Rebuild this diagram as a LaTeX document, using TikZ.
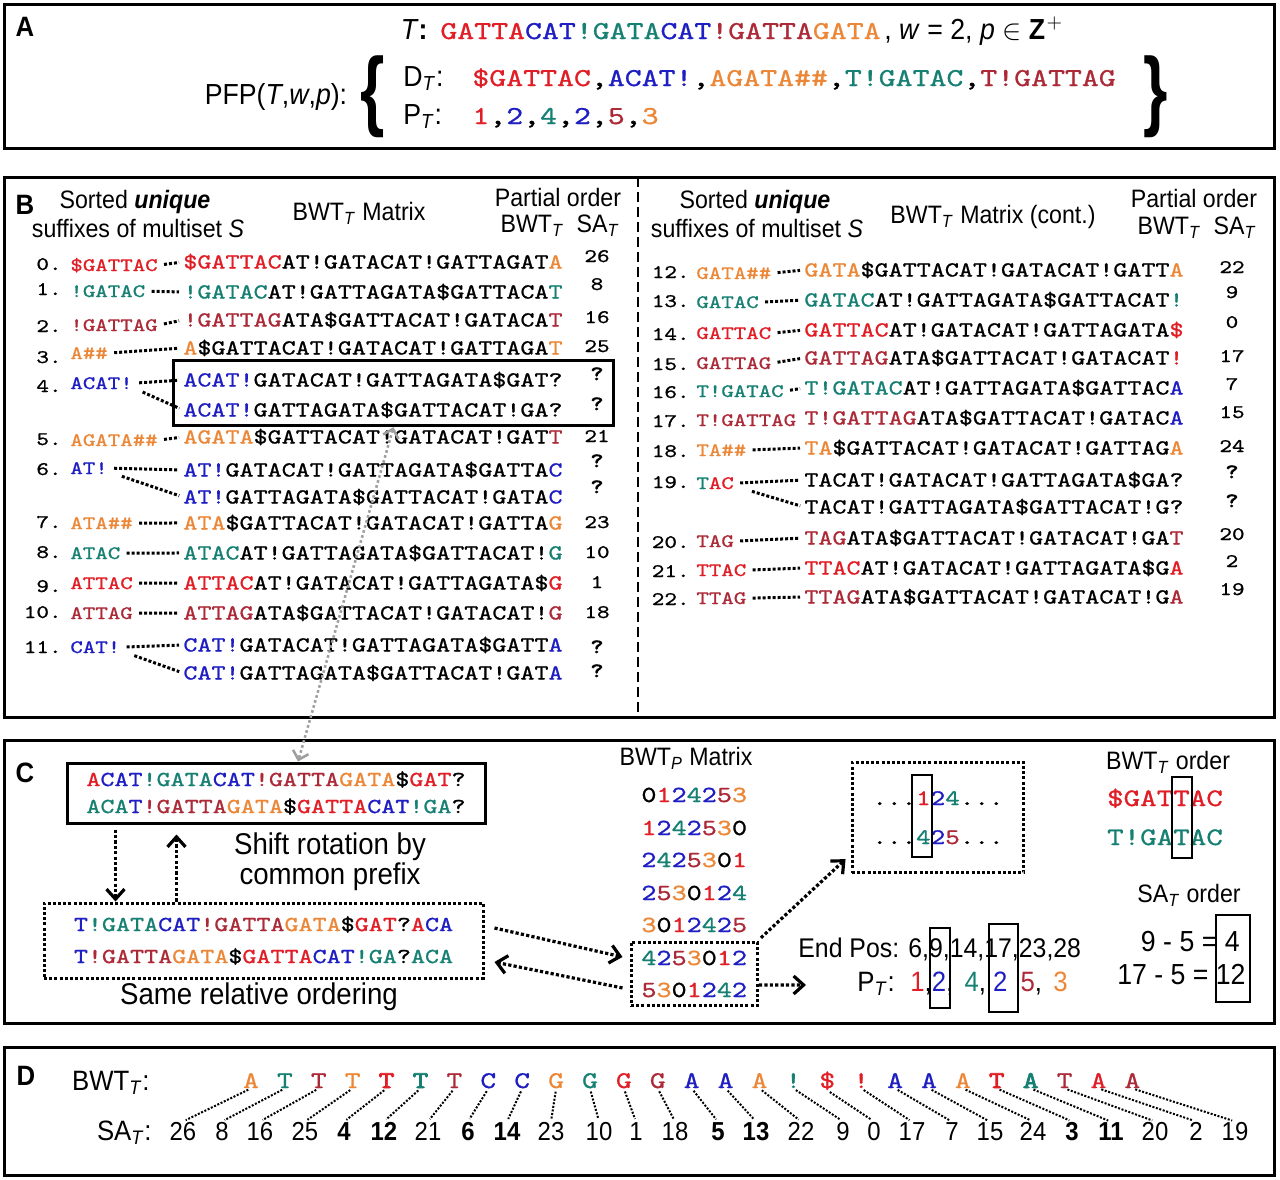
\documentclass[tikz,border=0pt]{standalone}
\usepackage{fontspec}
\usepackage{graphicx}
\setmainfont{Liberation Sans}[FakeStretch=0.92]
\newfontfamily\seqfont{lmmono10-regular}[Extension=.otf,FakeStretch=1.25,
  UprightFeatures={FakeBold=1},BoldFont=lmmono10-regular,BoldFeatures={FakeBold=3}]
\usetikzlibrary{arrows.meta,fit,calc}
\definecolor{seqred}{RGB}{225,30,38}
\definecolor{seqblue}{RGB}{30,30,195}
\definecolor{seqteal}{RGB}{22,128,115}
\definecolor{seqorange}{RGB}{235,135,55}
\definecolor{seqdark}{RGB}{172,42,55}
\newcommand{\fsz}[1]{\fontsize{#1}{#1}\selectfont}
\newcommand{\subi}[1]{\textsubscript{\textit{#1}}}
\newcommand{\cR}[1]{\textcolor{seqred}{#1}}
\newcommand{\cB}[1]{\textcolor{seqblue}{#1}}
\newcommand{\cT}[1]{\textcolor{seqteal}{#1}}
\newcommand{\cO}[1]{\textcolor{seqorange}{#1}}
\newcommand{\cD}[1]{\textcolor{seqdark}{#1}}
\tikzset{
  panel/.style={draw=black,line width=1.5pt},
  panellab/.style={font=\bfseries\fsz{14},inner sep=0pt},
  hdr/.style={font=\fsz{12.6},inner sep=0pt},
  txtbig/.style={font=\fsz{14.5},inner sep=0pt},
  seqrow/.style={font=\seqfont\fsz{10.7},anchor=base west,inner sep=0pt},
  suflab/.style={font=\seqfont\fsz{9.5},anchor=base west,inner sep=0pt},
  rownum/.style={font=\seqfont\fsz{9.6},anchor=base east,inner sep=0pt},
  saval/.style={font=\seqfont\fsz{9.6},anchor=base,inner sep=0pt},
  saq/.style={saval,font=\seqfont\bfseries\fsz{10}},
  dotlink/.style={line width=1.5pt,dash pattern=on 1.5pt off 1pt,
    shorten <=3pt,shorten >=2pt},
  dotarrow/.style={line width=1.6pt,dash pattern=on 1.6pt off 1.1pt,
    -{Straight Barb[length=5pt,width=9pt]}},
  dotbox/.style={draw,line width=1.5pt,dash pattern=on 1.5pt off 1.1pt},
  solidbox/.style={draw,line width=1.5pt},
  markbox/.style={draw,line width=1.2pt},
  greylink/.style={draw=gray!75,line width=1.3pt,dash pattern=on 1.3pt off 1.3pt,
    {Straight Barb[length=4pt,width=8pt]}-{Straight Barb[length=4pt,width=8pt]}},
  thinlink/.style={line width=1pt,dash pattern=on 1pt off 0.8pt,
    shorten <=1.5pt,shorten >=1.5pt},
  bwtch/.style={anchor=base,inner sep=0pt},
  saD/.style={anchor=base,inner sep=0pt}
}

\begin{document}
\begin{tikzpicture}[x=0.5pt,y=-0.5pt]
  \useasboundingbox (0,0) rectangle (1280,1179);
  % panel frames
  \draw[panel] (4,4) rectangle (1274,148);
  \draw[panel] (4,177) rectangle (1274,717);
  \draw[panel] (4,740) rectangle (1274,1023);
  \draw[panel] (4,1047) rectangle (1274,1175);
  \draw[line width=1.3pt,dash pattern=on 5pt off 2.5pt] (638,177) -- (638,717);

  % A: input and prefix-free parse
  \node[panellab] (labA) at (25,27) {A};
  \node[txtbig,anchor=base east] (tname) at (428,39) {\textit{T}\textbf{:}};
  \node[font=\seqfont\fsz{12.9},anchor=base west,inner sep=0pt] (tstr) at (440,39)
    {\cR{GATTA}\cB{CAT}\cT{!GATA}\cB{CAT}\cD{!GATTA}\cO{GATA}};
  \node[txtbig,anchor=base west] (params) at (884,39)
    {, \textit{w} = 2, \textit{p} $\in$ $\mathbf{Z}^{+}$};
  \node[txtbig] (pfp) at (276,97) {PFP(\textit{T},\textit{w},\textit{p}):};
  \node[inner sep=0pt] (lbr) at (373,97) {\fsz{20}\bfseries\scalebox{1.7}[2.2]{\{}};
  \node[txtbig,anchor=base west] (dlab) at (403,86) {D\subi{T}:};
  \node[font=\seqfont\fsz{12.9},anchor=base west,inner sep=0pt] (dstr) at (472,86)
    {\cR{\$GATTAC},\cB{ACAT!},\cO{AGATA\#\#},\cT{T!GATAC},\cD{T!GATTAG}};
  \node[txtbig,anchor=base west] (plab) at (403,124) {P\subi{T}:};
  \node[font=\seqfont\fsz{12.9},anchor=base west,inner sep=0pt] (pstr) at (472,124)
    {\cR{1},\cB{2},\cT{4},\cB{2},\cD{5},\cO{3}};
  \node[inner sep=0pt] (rbr) at (1156,97) {\fsz{20}\bfseries\scalebox{1.7}[2.2]{\}}};

  % B: headers
  \node[panellab] (labB) at (25,205) {B};
  \node[hdr] (hsortL) at (135,202) {Sorted \textbf{\textit{unique}}};
  \node[hdr] (hsufL) at (138,228) {suffixes of multiset \textit{S}};
  \node[hdr] (hmatL) at (359,213) {BWT\subi{T} Matrix};
  \node[hdr] (hpoL) at (558,197) {Partial order};
  \node[hdr] (hbsL) at (560,226) {BWT\subi{T}\enspace SA\subi{T}};
  \node[hdr] (hsortR) at (755,202) {Sorted \textbf{\textit{unique}}};
  \node[hdr] (hsufR) at (757,228) {suffixes of multiset \textit{S}};
  \node[hdr] (hmatR) at (993,217) {BWT\subi{T} Matrix (cont.)};
  \node[hdr] (hpoR) at (1194,198) {Partial order};
  \node[hdr] (hbsR) at (1197,228) {BWT\subi{T}\enspace SA\subi{T}};

  % B: rows 0-11
  \node[rownum] (n0) at (62,270) {0.};
  \node[suflab] (l0) at (70,271) {\cR{\$GATTAC}};
  \node[seqrow] (r0) at (183,268.5) {\cR{\$GATTAC}AT!GATACAT!GATTAGAT\cO{A}};
  \node[saval] (s0) at (597,262) {26};
  \node[rownum] (n1) at (62,295) {1.};
  \node[suflab] (l1) at (70,297) {\cT{!GATAC}};
  \node[seqrow] (r1) at (183,298.5) {\cT{!GATAC}AT!GATTAGATA\$GATTACA\cT{T}};
  \node[saval] (s1) at (597,290) {8};
  \node[rownum] (n2) at (62,332) {2.};
  \node[suflab] (l2) at (70,331) {\cD{!GATTAG}};
  \node[seqrow] (r2) at (183,326.5) {\cD{!GATTAG}ATA\$GATTACAT!GATACA\cD{T}};
  \node[saval] (s2) at (597,323) {16};
  \node[rownum] (n3) at (62,363) {3.};
  \node[suflab] (l3) at (70,359) {\cO{A\#\#}};
  \node[seqrow] (r3) at (183,354.5) {\cO{A}\$GATTACAT!GATACAT!GATTAGA\cO{T}};
  \node[saval] (s3) at (597,352) {25};
  \node[rownum] (n4) at (62,392) {4.};
  \node[suflab] (l4) at (70,389) {\cB{ACAT!}};
  \node[seqrow] (r4a) at (183,386.5) {\cB{ACAT!}GATACAT!GATTAGATA\$GAT?};
  \node[seqrow] (r4b) at (183,416.5) {\cB{ACAT!}GATTAGATA\$GATTACAT!GA?};
  \node[saq] (s4a) at (597,380) {?};
  \node[saq] (s4b) at (597,410) {?};
  \node[solidbox,fit=(r4a)(r4b)(s4a)(s4b),inner xsep=5pt,inner ysep=3.5pt] (box4) {};
  \node[rownum] (n5) at (62,445) {5.};
  \node[suflab] (l5) at (70,446) {\cO{AGATA\#\#}};
  \node[seqrow] (r5) at (183,443.5) {\cO{AGATA}\$GATTACAT!GATACAT!GAT\cD{T}};
  \node[saval] (s5) at (597,442) {21};
  \node[rownum] (n6) at (62,475) {6.};
  \node[suflab] (l6) at (70,474) {\cB{AT!}};
  \node[seqrow] (r6a) at (183,476.5) {\cB{AT!}GATACAT!GATTAGATA\$GATTA\cB{C}};
  \node[seqrow] (r6b) at (183,503.5) {\cB{AT!}GATTAGATA\$GATTACAT!GATA\cB{C}};
  \node[saq] (s6a) at (597,467) {?};
  \node[saq] (s6b) at (597,493) {?};
  \node[rownum] (n7) at (62,528) {7.};
  \node[suflab] (l7) at (70,529) {\cO{ATA\#\#}};
  \node[seqrow] (r7) at (183,529.5) {\cO{ATA}\$GATTACAT!GATACAT!GATTA\cO{G}};
  \node[saval] (s7) at (597,528) {23};
  \node[rownum] (n8) at (62,558) {8.};
  \node[suflab] (l8) at (70,559) {\cT{ATAC}};
  \node[seqrow] (r8) at (183,559.5) {\cT{ATAC}AT!GATTAGATA\$GATTACAT!\cT{G}};
  \node[saval] (s8) at (597,558) {10};
  \node[rownum] (n9) at (62,592) {9.};
  \node[suflab] (l9) at (70,589) {\cR{ATTAC}};
  \node[seqrow] (r9) at (183,589.5) {\cR{ATTAC}AT!GATACAT!GATTAGATA\$\cR{G}};
  \node[saval] (s9) at (597,588) {1};
  \node[rownum] (n10) at (62,618) {10.};
  \node[suflab] (l10) at (70,619) {\cD{ATTAG}};
  \node[seqrow] (r10) at (183,619.5) {\cD{ATTAG}ATA\$GATTACAT!GATACAT!\cD{G}};
  \node[saval] (s10) at (597,618) {18};
  \node[rownum] (n11) at (62,653) {11.};
  \node[suflab] (l11) at (70,653) {\cB{CAT!}};
  \node[seqrow] (r11a) at (183,651.5) {\cB{CAT!}GATACAT!GATTAGATA\$GATT\cB{A}};
  \node[seqrow] (r11b) at (183,679.5) {\cB{CAT!}GATTAGATA\$GATTACAT!GAT\cB{A}};
  \node[saq] (s11a) at (597,653) {?};
  \node[saq] (s11b) at (597,677) {?};

  % B: rows 12-22
  \node[rownum] (n12) at (690,278) {12.};
  \node[suflab] (l12) at (696,279) {\cO{GATA\#\#}};
  \node[seqrow] (r12) at (804,276.5) {\cO{GATA}\$GATTACAT!GATACAT!GATT\cO{A}};
  \node[saval] (s12) at (1232,273) {22};
  \node[rownum] (n13) at (690,307) {13.};
  \node[suflab] (l13) at (696,308) {\cT{GATAC}};
  \node[seqrow] (r13) at (804,306.5) {\cT{GATAC}AT!GATTAGATA\$GATTACAT\cT{!}};
  \node[saval] (s13) at (1232,298) {9};
  \node[rownum] (n14) at (690,340) {14.};
  \node[suflab] (l14) at (696,339) {\cR{GATTAC}};
  \node[seqrow] (r14) at (804,336.5) {\cR{GATTAC}AT!GATACAT!GATTAGATA\cR{\$}};
  \node[saval] (s14) at (1232,328) {0};
  \node[rownum] (n15) at (690,370) {15.};
  \node[suflab] (l15) at (696,369) {\cD{GATTAG}};
  \node[seqrow] (r15) at (804,364.5) {\cD{GATTAG}ATA\$GATTACAT!GATACAT\cR{!}};
  \node[saval] (s15) at (1232,362) {17};
  \node[rownum] (n16) at (690,398) {16.};
  \node[suflab] (l16) at (696,397) {\cT{T!GATAC}};
  \node[seqrow] (r16) at (804,394.5) {\cT{T!GATAC}AT!GATTAGATA\$GATTAC\cB{A}};
  \node[saval] (s16) at (1232,390) {7};
  \node[rownum] (n17) at (690,427) {17.};
  \node[suflab] (l17) at (696,426) {\cD{T!GATTAG}};
  \node[seqrow] (r17) at (804,424.5) {\cD{T!GATTAG}ATA\$GATTACAT!GATAC\cB{A}};
  \node[saval] (s17) at (1232,418) {15};
  \node[rownum] (n18) at (690,457) {18.};
  \node[suflab] (l18) at (696,456) {\cO{TA\#\#}};
  \node[seqrow] (r18) at (804,454.5) {\cO{TA}\$GATTACAT!GATACAT!GATTAG\cO{A}};
  \node[saval] (s18) at (1232,452) {24};
  \node[rownum] (n19) at (690,488) {19.};
  \node[suflab] (l19) at (696,489) {\cT{T}\cR{AC}};
  \node[seqrow] (r19a) at (804,486.5) {TACAT!GATACAT!GATTAGATA\$GA?};
  \node[seqrow] (r19b) at (804,513.5) {TACAT!GATTAGATA\$GATTACAT!G?};
  \node[saq] (s19a) at (1232,478) {?};
  \node[saq] (s19b) at (1232,507) {?};
  \node[rownum] (n20) at (690,548) {20.};
  \node[suflab] (l20) at (696,547) {\cD{TAG}};
  \node[seqrow] (r20) at (804,544.5) {\cD{TAG}ATA\$GATTACAT!GATACAT!GA\cD{T}};
  \node[saval] (s20) at (1232,540) {20};
  \node[rownum] (n21) at (690,577) {21.};
  \node[suflab] (l21) at (696,576) {\cR{TTAC}};
  \node[seqrow] (r21) at (804,574.5) {\cR{TTAC}AT!GATACAT!GATTAGATA\$G\cR{A}};
  \node[saval] (s21) at (1232,567) {2};
  \node[rownum] (n22) at (690,605) {22.};
  \node[suflab] (l22) at (696,604) {\cD{TTAG}};
  \node[seqrow] (r22) at (804,603.5) {\cD{TTAG}ATA\$GATTACAT!GATACAT!G\cD{A}};
  \node[saval] (s22) at (1232,595) {19};

  % B: suffix -> matrix links
  \draw[dotlink] (l0.east) -- (r0.west);
  \draw[dotlink] (l1.east) -- (r1.west);
  \draw[dotlink] (l2.east) -- (r2.west);
  \draw[dotlink] (l3.east) -- (r3.west);
  \draw[dotlink] (l4.east) -- (r4a.west);
  \draw[dotlink] ([xshift=2pt]l4.south east) -- (r4b.west);
  \draw[dotlink] (l5.east) -- (r5.west);
  \draw[dotlink] (l6.east) -- (r6a.west);
  \draw[dotlink] ([xshift=4pt]l6.south east) -- (r6b.west);
  \draw[dotlink] (l7.east) -- (r7.west);
  \draw[dotlink] (l8.east) -- (r8.west);
  \draw[dotlink] (l9.east) -- (r9.west);
  \draw[dotlink] (l10.east) -- (r10.west);
  \draw[dotlink] (l11.east) -- (r11a.west);
  \draw[dotlink] ([xshift=4pt]l11.south east) -- (r11b.west);
  \draw[dotlink] (l12.east) -- (r12.west);
  \draw[dotlink] (l13.east) -- (r13.west);
  \draw[dotlink] (l14.east) -- (r14.west);
  \draw[dotlink] (l15.east) -- (r15.west);
  \draw[dotlink] (l16.east) -- (r16.west);
  \draw[dotlink] (l18.east) -- (r18.west);
  \draw[dotlink] (l19.east) -- (r19a.west);
  \draw[dotlink] ([xshift=6pt]l19.south east) -- (r19b.west);
  \draw[dotlink] (l20.east) -- (r20.west);
  \draw[dotlink] (l21.east) -- (r21.west);
  \draw[dotlink] (l22.east) -- (r22.west);

  % C: shifted rotations
  \node[panellab] (labC) at (25,773) {C};
  \node[solidbox,font=\seqfont\fontsize{10.7}{13.5}\selectfont,align=center,
    minimum width=209pt,minimum height=30pt,inner sep=0pt] (cTop) at (276,793)
    {\cR{A}\cB{CAT}\cT{!GATA}\cB{CAT}\cD{!GATTA}\cO{GATA}\$\cR{GAT}?\\
     \cT{ACA}\cB{T}\cD{!GATTA}\cO{GATA}\$\cR{GATTA}\cB{CAT}\cT{!GA}?};
  \node[dotbox,font=\seqfont\fontsize{10.7}{16}\selectfont,align=center,
    minimum width=219.5pt,minimum height=37.5pt,inner sep=0pt] (cLow) at (263.5,940.5)
    {\cB{T}\cT{!GATA}\cB{CAT}\cD{!GATTA}\cO{GATA}\$\cR{GAT}?\cR{A}\cB{CA}\\
     \cB{T}\cD{!GATTA}\cO{GATA}\$\cR{GATTA}\cB{CAT}\cT{!GA}?\cT{ACA}};
  \node[font=\fontsize{15}{13.5}\selectfont,align=center,inner sep=0pt] (shift) at (330,862)
    {Shift rotation by\\common prefix};
  \node[font=\fsz{15},inner sep=0pt] (same) at (259,997) {Same relative ordering};
  \coordinate (dnTop) at ([xshift=25pt,yshift=-2.5pt]cTop.south west);
  \coordinate (dnBot) at (dnTop |- cLow.north);
  \coordinate (upTop) at ([xshift=55.5pt,yshift=-5pt]cTop.south west);
  \coordinate (upBot) at (upTop |- cLow.north);
  \draw[dotarrow] (dnTop) -- (dnBot);
  \draw[dotarrow] (upBot) -- (upTop);

  % C: BWT of the parse
  \node[hdr] (hbwtp) at (686,758) {BWT\subi{P} Matrix};
  \node[font=\seqfont\fsz{11.5},anchor=base west,inner sep=0pt] (p0) at (641,802)
    {0\cR{1}\cB{2}\cT{4}\cB{2}\cD{5}\cO{3}};
  \node[font=\seqfont\fsz{11.5},anchor=base west,inner sep=0pt] (p1) at (641,835)
    {\cR{1}\cB{2}\cT{4}\cB{2}\cD{5}\cO{3}0};
  \node[font=\seqfont\fsz{11.5},anchor=base west,inner sep=0pt] (p2) at (641,867)
    {\cB{2}\cT{4}\cB{2}\cD{5}\cO{3}0\cR{1}};
  \node[font=\seqfont\fsz{11.5},anchor=base west,inner sep=0pt] (p3) at (641,900)
    {\cB{2}\cD{5}\cO{3}0\cR{1}\cB{2}\cT{4}};
  \node[font=\seqfont\fsz{11.5},anchor=base west,inner sep=0pt] (p4) at (641,932)
    {\cO{3}0\cR{1}\cB{2}\cT{4}\cB{2}\cD{5}};
  \node[font=\seqfont\fsz{11.5},anchor=base west,inner sep=0pt] (p5) at (641,965)
    {\cT{4}\cB{2}\cD{5}\cO{3}0\cR{1}\cB{2}};
  \node[font=\seqfont\fsz{11.5},anchor=base west,inner sep=0pt] (p6) at (641,997)
    {\cD{5}\cO{3}0\cR{1}\cB{2}\cT{4}\cB{2}};
  \node[dotbox,fit=(p5)(p6),inner xsep=5pt,inner ysep=4pt] (pBox) {};

  \node[font=\seqfont\fsz{11.1},anchor=base,inner sep=0pt] (dA) at (938,805)
    {...\cR{1}\cB{2}\cT{4}...};
  \node[font=\seqfont\fsz{11.1},anchor=base,inner sep=0pt] (dB) at (938,844)
    {...\cT{4}\cB{2}\cD{5}...};
  \node[dotbox,fit=(dA)(dB),inner xsep=10pt,inner ysep=14pt] (dBox) {};
  \draw[markbox] (912,775) rectangle (932,857);

  \node[hdr] (hbto) at (1168,762) {BWT\subi{T} order};
  \node[font=\seqfont\fsz{12.6},anchor=base,inner sep=0pt] (ordA) at (1165,806) {\cR{\$GATTAC}};
  \node[font=\seqfont\fsz{12.6},anchor=base,inner sep=0pt] (ordB) at (1165,845) {\cT{T!GATAC}};
  \draw[markbox] (1172,777) rectangle (1192,858);

  \node[hdr] (hsao) at (1189,895) {SA\subi{T} order};
  \node[txtbig,anchor=base east] (eq1) at (1240,951) {9 - 5 = 4};
  \node[txtbig,anchor=base east] (eq2) at (1246,984) {17 - 5 = 12};
  \draw[markbox] (1216,915) rectangle (1250,1002);

  \node[font=\fsz{13.5},anchor=base west,inner sep=0pt] (endpos) at (798,957)
    {End Pos: 6,9,14,17,23,28};
  \node[font=\fsz{14},anchor=base west,inner sep=0pt] (ptl) at (857,991) {P\subi{T}:};
  \node[font=\fsz{14},anchor=base west,inner sep=0pt] (ptv) at (910,991)
    {\cR{1},\cB{2}, \hspace{2pt}\cT{4}, \cB{2}\hspace{3pt} \cD{5}, \hspace{2pt}\cO{3}};
  \draw[markbox] (930,928) rectangle (950,1008);
  \draw[markbox] (989,924) rectangle (1018,1012);

  \coordinate (pcue) at (806,985);
  \draw[dotarrow] ([xshift=5pt,yshift=6.25pt]cLow.east) -- ([xshift=-3.5pt,yshift=8.5pt]pBox.west);
  \draw[dotarrow] ([xshift=-3.5pt,yshift=-7pt]pBox.west) -- ([xshift=5pt,yshift=-10.75pt]cLow.east);
  \draw[dotarrow] ([xshift=1pt,yshift=1.5pt]pBox.north east) -- ([xshift=-2.5pt,yshift=7.5pt]dBox.south west);
  \draw[dotarrow] ([yshift=-5.5pt]pBox.east) -- (pcue);

  % link from panel B to panel C
  \draw[greylink] (box4.south) -- ([xshift=11pt]cTop.north);

  % D: final BWT and SA
  \node[panellab] (labD) at (26,1076) {D};
  \node[font=\fsz{14},anchor=base east,inner sep=0pt] (bwtD) at (150,1090) {BWT\subi{T}:};
  \node[font=\fsz{14},anchor=base east,inner sep=0pt] (saDl) at (152,1140) {SA\subi{T}:};
  \foreach \ch/\co/\chw/\sa/\sx/\saw [count=\i from 0] in {
    A/seqorange/\mdseries/26/183/\mdseries, T/seqteal/\mdseries/8/222/\mdseries,
    T/seqdark/\mdseries/16/260/\mdseries, T/seqorange/\mdseries/25/305/\mdseries,
    T/seqred/\bfseries/4/344/\bfseries, T/seqteal/\bfseries/12/384/\bfseries,
    T/seqdark/\mdseries/21/428/\mdseries, C/seqblue/\mdseries/6/468/\bfseries,
    C/seqblue/\mdseries/14/507/\bfseries, G/seqorange/\mdseries/23/551/\mdseries,
    G/seqteal/\mdseries/10/599/\mdseries, G/seqred/\mdseries/1/636/\mdseries,
    G/seqdark/\mdseries/18/675/\mdseries, A/seqblue/\mdseries/5/718/\bfseries,
    A/seqblue/\mdseries/13/756/\bfseries, A/seqorange/\mdseries/22/801/\mdseries,
    !/seqteal/\mdseries/9/843/\mdseries, \$/seqred/\mdseries/0/874/\mdseries,
    !/seqred/\mdseries/17/912/\mdseries, A/seqblue/\mdseries/7/952/\mdseries,
    A/seqblue/\mdseries/15/990/\mdseries, A/seqorange/\mdseries/24/1033/\mdseries,
    T/seqred/\bfseries/3/1072/\bfseries, A/seqteal/\bfseries/11/1111/\bfseries,
    T/seqdark/\mdseries/20/1155/\mdseries, A/seqred/\mdseries/2/1196/\mdseries,
    A/seqdark/\mdseries/19/1235/\mdseries}
  {
    \node[bwtch,text=\co,font={\seqfont\fsz{12}\chw}] (bw\i) at (251+33.9*\i,1088) {\ch};
    \node[saD,font={\fsz{13}\saw}] (sa\i) at (\sx,1140) {\sa};
    \draw[thinlink] (bw\i.south) -- (sa\i.north);
  }
\end{tikzpicture}
\end{document}
